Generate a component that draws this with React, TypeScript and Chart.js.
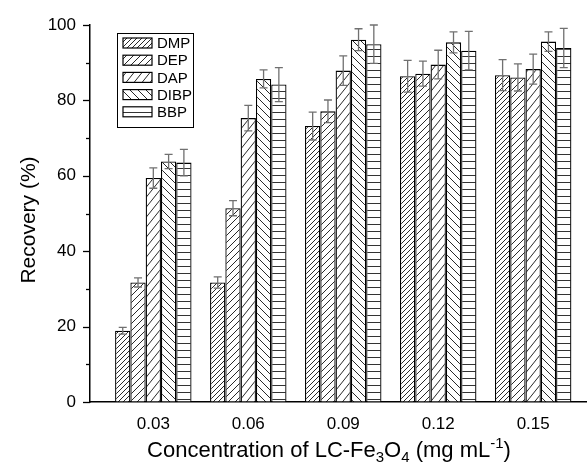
import React, { useEffect, useRef } from "react";
import { Chart, registerables } from "chart.js";

Chart.register(...registerables);

const categories = ["0.03", "0.06", "0.09", "0.12", "0.15"];
const xValues = [0.03, 0.06, 0.09, 0.12, 0.15];
const seriesNames = ["DMP", "DEP", "DAP", "DIBP", "BBP"];
const DMP = [18.9, 31.7, 73.2, 86.4, 86.7];
const DMP_err = [0.9, 1.5, 3.7, 4.2, 4.1];
const DEP = [31.7, 51.4, 77.1, 87.1, 86.1];
const DEP_err = [1.2, 2.0, 3.0, 3.3, 3.6];
const DAP = [59.4, 75.3, 87.9, 89.5, 88.3];
const DAP_err = [2.7, 3.4, 3.9, 3.8, 4.0];
const DIBP = [63.8, 85.7, 96.1, 95.4, 95.6];
const DIBP_err = [1.9, 2.4, 2.9, 2.8, 2.6];
const BBP = [63.5, 84.2, 94.9, 93.2, 93.9];
const BBP_err = [3.5, 4.5, 5.1, 5.1, 5.2];
const yTicks = [0, 20, 40, 60, 80, 100];

const FONT = "'Liberation Sans', Arial, sans-serif";

function makePattern(kind: string): CanvasPattern | string {
  const c = document.createElement("canvas");
  let w = 8, h = 8;
  if (kind === "DMP") { w = 5; h = 5; }
  if (kind === "DEP") { w = 7; h = 7; }
  if (kind === "DAP") { w = 8; h = 10; }
  if (kind === "DIBP") { w = 8; h = 8; }
  if (kind === "BBP") { w = 8; h = 7; }
  c.width = w; c.height = h;
  const g = c.getContext("2d")!;
  g.fillStyle = "#fff";
  g.fillRect(0, 0, w, h);
  g.strokeStyle = "#111";
  g.lineWidth = 0.9;
  g.beginPath();
  if (kind === "BBP") {
    g.strokeStyle = "#333";
    g.lineWidth = 1;
    g.moveTo(0, 0.5); g.lineTo(w, 0.5);
  } else if (kind === "DIBP") {
    for (const o of [-1, 0, 1]) {
      g.moveTo(o * w, 0); g.lineTo(o * w + w, h);
    }
  } else {
    for (const o of [-1, 0, 1]) {
      g.moveTo(o * w, h); g.lineTo(o * w + w, 0);
    }
  }
  g.stroke();
  const ctx = document.createElement("canvas").getContext("2d")!;
  return ctx.createPattern(c, "repeat") || "#fff";
}

export default function App() {
  const ref = useRef<HTMLCanvasElement>(null);

  useEffect(() => {
    const values = [DMP, DEP, DAP, DIBP, BBP];
    const errs = [DMP_err, DEP_err, DAP_err, DIBP_err, BBP_err];
    const patterns = seriesNames.map((n) => makePattern(n));

    const datasets = seriesNames.map((name, k) => ({
      label: name,
      data: xValues.map((x, i) => ({ x, y: values[k][i] })),
      backgroundColor: patterns[k] as any,
      borderColor: "#000",
      borderWidth: 1.3,
      borderSkipped: "start" as const,
      categoryPercentage: 0.805,
      barPercentage: 1,
    }));

    const overlay = {
      id: "overlay",
      afterDatasetsDraw(chart: any) {
        const ctx = chart.ctx as CanvasRenderingContext2D;
        const ys = chart.scales.y;
        ctx.save();
        ctx.strokeStyle = "#707070";
        ctx.lineWidth = 1.3;
        seriesNames.forEach((_, k) => {
          const meta = chart.getDatasetMeta(k);
          meta.data.forEach((el: any, i: number) => {
            const v = values[k][i], e = errs[k][i];
            const yt = ys.getPixelForValue(v + e);
            const yb = ys.getPixelForValue(v - e);
            ctx.beginPath();
            ctx.moveTo(el.x, yt); ctx.lineTo(el.x, yb);
            ctx.moveTo(el.x - 4, yt); ctx.lineTo(el.x + 4, yt);
            ctx.moveTo(el.x - 4, yb); ctx.lineTo(el.x + 4, yb);
            ctx.stroke();
          });
        });
        ctx.restore();
      },
      afterDraw(chart: any) {
        const ctx = chart.ctx as CanvasRenderingContext2D;
        const ys = chart.scales.y;
        const area = chart.chartArea;
        ctx.save();
        ctx.strokeStyle = "#000";
        ctx.lineWidth = 1.3;
        for (let v = 0; v <= 100; v += 10) {
          const y = Math.round(ys.getPixelForValue(v)) + 0.5;
          const len = v % 20 === 0 ? 7 : 4;
          ctx.beginPath();
          ctx.moveTo(area.left - len, y);
          ctx.lineTo(area.left, y);
          ctx.stroke();
        }
        // legend
        const lx = 117, ly = 33, lw = 76, lh = 94;
        ctx.fillStyle = "#fff";
        ctx.fillRect(lx, ly, lw, lh);
        ctx.strokeStyle = "#000";
        ctx.lineWidth = 1;
        ctx.strokeRect(lx + 0.5, ly + 0.5, lw, lh);
        ctx.font = `15px ${FONT}`;
        ctx.textBaseline = "middle";
        ctx.textAlign = "left";
        seriesNames.forEach((name, k) => {
          const cy = 43 + k * 17.2;
          ctx.fillStyle = patterns[k] as any;
          ctx.fillRect(123, cy - 5, 29, 10);
          ctx.strokeStyle = "#000";
          ctx.lineWidth = 1.2;
          ctx.strokeRect(123, cy - 5, 29, 10);
          ctx.fillStyle = "#000";
          ctx.fillText(name, 157, cy + 1);
        });
        // y title
        ctx.save();
        ctx.translate(29, 220);
        ctx.rotate(-Math.PI / 2);
        ctx.font = `21px ${FONT}`;
        ctx.textAlign = "center";
        ctx.textBaseline = "middle";
        ctx.fillStyle = "#000";
        ctx.fillText("Recovery (%)", 0, 0);
        ctx.restore();
        // x title with sub/superscripts
        const size = 22, small = 15;
        const parts: [string, number, number][] = [
          ["Concentration of LC-Fe", size, 0],
          ["3", small, 5],
          ["O", size, 0],
          ["4", small, 5],
          [" (mg mL", size, 0],
          ["-1", small, -9],
          [")", size, 0],
        ];
        let total = 0;
        parts.forEach(([t, s]) => {
          ctx.font = `${s}px ${FONT}`;
          total += ctx.measureText(t).width;
        });
        let x = 329 - total / 2;
        const base = 457;
        ctx.textAlign = "left";
        ctx.textBaseline = "alphabetic";
        ctx.fillStyle = "#000";
        parts.forEach(([t, s, dy]) => {
          ctx.font = `${s}px ${FONT}`;
          ctx.fillText(t, x, base + dy);
          x += ctx.measureText(t).width;
        });
        ctx.restore();
      },
    };

    const chart = new Chart(ref.current!, {
      type: "bar",
      data: { datasets: datasets as any },
      options: {
        animation: false,
        responsive: false,
        events: [],
        layout: { padding: { top: 25, right: 0, bottom: 0, left: 0 } },
        plugins: { legend: { display: false }, tooltip: { enabled: false } },
        scales: {
          x: {
            type: "linear",
            offset: false,
            min: 0.01,
            max: 0.167,
            afterBuildTicks: (scale: any) => {
              scale.ticks = xValues.map((v) => ({ value: v }));
            },
            afterFit: (scale: any) => { scale.height = 62; },
            ticks: {
              autoSkip: false,
              maxRotation: 0,
              padding: 12,
              color: "#000",
              font: { family: FONT, size: 17 },
              callback: (v: any) => categories[xValues.findIndex((x) => Math.abs(x - Number(v)) < 1e-6)] ?? "",
            },
            grid: { display: false, drawTicks: false, tickLength: 0, offset: false },
            border: { display: true, color: "#000", width: 1.5 },
          },
          y: {
            min: 0,
            max: 100,
            afterBuildTicks: (scale: any) => {
              scale.ticks = yTicks.map((v) => ({ value: v }));
            },
            afterFit: (scale: any) => { scale.width = 90; },
            ticks: {
              padding: 6,
              color: "#000",
              font: { family: FONT, size: 17 },
            },
            grid: { display: true, drawOnChartArea: false, drawTicks: true, tickLength: 8, color: "rgba(0,0,0,0)" },
            border: { display: true, color: "#000", width: 1.5 },
          },
        },
      },
      plugins: [overlay],
    });
    return () => chart.destroy();
  }, []);

  return (
    <canvas
      ref={ref}
      width={587}
      height={464}
      style={{ position: "absolute", left: 0, top: 0, display: "block", background: "#fff" }}
    />
  );
}
